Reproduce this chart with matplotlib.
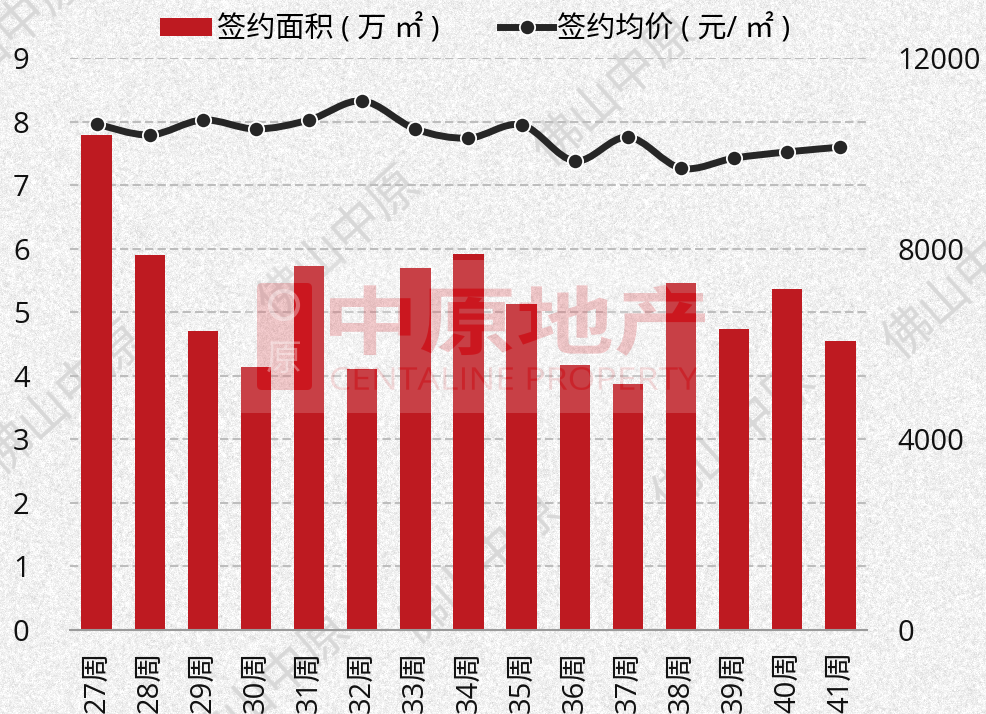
import numpy as np
import matplotlib
matplotlib.use("Agg")
import matplotlib.pyplot as plt
from matplotlib.font_manager import FontProperties
from matplotlib.lines import Line2D
from matplotlib.patches import Circle, FancyBboxPatch, PathPatch, Rectangle
from matplotlib.path import Path
from matplotlib.text import TextPath
from matplotlib.transforms import Affine2D

plt.rcParams['font.family'] = ['Open Sans', 'Noto Sans CJK SC', 'DejaVu Sans']

W, H = 987, 714

weeks = ["27周", "28周", "29周", "30周", "31周", "32周", "33周", "34周",
         "35周", "36周", "37周", "38周", "39周", "40周", "41周"]
area = [7.79, 5.90, 4.70, 4.14, 5.73, 4.10, 5.70, 5.91,
        5.13, 4.17, 3.87, 5.46, 4.74, 5.37, 4.55]
price = [10615, 10385, 10700, 10510, 10700, 11100, 10510, 10320,
         10595, 9840, 10340, 9690, 9900, 10030, 10130]
left_ticks = list(range(10))
right_ticks = [0, 4000, 8000, 12000]

red = "#be1a21"
dark = "#262626"


def fx(px):
    return px / W


def fy(py):
    return 1 - py / H


def smooth_path(x, y):
    # same kind of smoothing as the office chart line, knots stay on the data
    x, y = np.asarray(x, float), np.asarray(y, float)
    verts = [(x[0], y[0])]
    codes = [Path.MOVETO]
    for i in range(len(x) - 1):
        a = max(i - 1, 0)
        b = min(i + 2, len(x) - 1)
        verts.append((x[i] + (x[i + 1] - x[a]) / 6, y[i] + (y[i + 1] - y[a]) / 6))
        verts.append((x[i + 1] - (x[b] - x[i]) / 6, y[i + 1] - (y[b] - y[i]) / 6))
        verts.append((x[i + 1], y[i + 1]))
        codes += [Path.CURVE4] * 3
    return Path(verts, codes)


def fitted_text(s, x0, y0, x1, y1, weight="normal", family="Noto Sans CJK SC"):
    # text outline stretched into a pixel box, the logo is wider than the font
    tp = TextPath((0, 0), s, size=40, prop=FontProperties(family=family, weight=weight))
    bb = tp.get_extents()
    tr = Affine2D().translate(-bb.x0, -bb.y0).scale((x1 - x0) / bb.width, (y1 - y0) / bb.height)
    tr = tr.translate(x0, H - y1)
    return tr.transform_path(tp)


def icon_box(color, alpha):
    return FancyBboxPatch((257, H - 390), 55, 107, boxstyle="round,pad=0,rounding_size=5",
                          transform=None, facecolor=color, edgecolor="none",
                          alpha=alpha, zorder=6)


fig = plt.figure(figsize=(W / 100, H / 100), dpi=100)

# paper texture behind everything
rng = np.random.default_rng(3)
fine = rng.normal(0, 1, (H, W))
coarse = rng.normal(0, 1, (H, W))
kernel = np.ones(3) / 3
for row in range(H):
    coarse[row] = np.convolve(coarse[row], kernel, mode="same")
for col in range(W):
    coarse[:, col] = np.convolve(coarse[:, col], kernel, mode="same")
texture = np.clip(241 + 7 * fine + 15 * coarse, 205, 255) / 255
fig.figimage(texture, cmap="gray", vmin=0, vmax=1, zorder=-5)

# watermarks
for px, py in [(615, 92), (340, 245), (965, 285), (65, 400), (735, 440),
               (480, 570), (270, 690), (5, 40)]:
    fig.text(fx(px), fy(py), "佛山中原", fontsize=36, color="#d8d8d8",
             family="Noto Sans CJK SC", rotation=42, ha="center", va="center", zorder=-4)

ax = fig.add_axes([fx(70), fy(630), fx(867) - fx(70), (630 - 58) / H])
ax.patch.set_alpha(0)
xpos = np.arange(len(weeks))
bars = ax.bar(xpos, area, width=0.57, color=red, zorder=2)
ax.set_xlim(-0.5, len(weeks) - 0.5)
ax.set_ylim(0, 9)
ax.set_yticks(left_ticks)
ax.set_xticks(xpos)
ax.set_xticklabels(weeks, rotation=90, va="top", ha="center")
ax.tick_params(axis="y", length=0, labelsize=21, pad=29, labelcolor="#111111")
ax.tick_params(axis="x", length=0, labelsize=21, pad=15, labelcolor="#111111")
ax.grid(axis="y", color="#bdbdbd", linestyle=(0, (4, 2)), linewidth=1.5, zorder=0)
ax.set_axisbelow(True)
for s in ["top", "left", "right"]:
    ax.spines[s].set_visible(False)
ax.spines["bottom"].set_color("#9a9a9a")
ax.spines["bottom"].set_linewidth(1.5)

ax2 = ax.twinx()
ax2.patch.set_alpha(0)
ax2.set_ylim(0, 12000)
ax2.set_yticks(right_ticks)
ax2.tick_params(axis="y", length=0, labelsize=21, pad=22, labelcolor="#111111")
for s in ax2.spines.values():
    s.set_visible(False)
ax2.add_patch(PathPatch(smooth_path(xpos, price), fill=False, edgecolor=dark,
                        linewidth=5, capstyle="round", zorder=3))
ax2.plot(xpos, price, linestyle="none", marker="o", markersize=11, color=dark,
         markeredgecolor="white", markeredgewidth=1.3, zorder=4)

# logo stamp on top of the bars: pale sheet, glyphs show through
fig.add_artist(Rectangle((fx(240), fy(413)), fx(465), 153 / H, facecolor="white",
                         alpha=0.17, edgecolor="none", zorder=5))
logo_paths = [fitted_text("中原地产", 330, 285, 705, 356, weight="bold"),
              fitted_text("CENTALINE PROPERTY", 331, 367, 698, 390, family="Open Sans")]
logo_alpha = [0.22, 0.14]
for lp, la in zip(logo_paths, logo_alpha):
    fig.add_artist(PathPatch(lp, transform=None, facecolor="#d01a20", edgecolor="none",
                             alpha=la, zorder=6))
    for b in bars:
        p = PathPatch(lp, transform=None, facecolor="#cc1018", edgecolor="none",
                      alpha=0.8 if la > 0.2 else 0.5, zorder=6)
        fig.add_artist(p)
        p.set_clip_path(b)
fig.add_artist(icon_box("#d01a20", 0.22))
fig.add_artist(Circle((284, H - 305), 14, transform=None, facecolor="none",
                      edgecolor="white", linewidth=3, alpha=0.35, zorder=7))
fig.text(fx(284), fy(360), "原", fontsize=26, color="white", alpha=0.35,
         family="Noto Sans CJK SC", ha="center", va="center", zorder=7)
for b in [bars[3], bars[4]]:
    p = icon_box("#cc1018", 0.8)
    fig.add_artist(p)
    p.set_clip_path(b)

handles = [Rectangle((0, 0), 1, 1, facecolor=red),
           Line2D([], [], color=dark, linewidth=5, marker="o", markersize=11,
                  markeredgecolor="white", markeredgewidth=1.3)]
fig.legend(handles, ["签约面积 ( 万 ㎡ )", "签约均价 ( 元/ ㎡ )"], loc="center",
           bbox_to_anchor=(fx(475), fy(29)), ncol=2, frameon=False, fontsize=21,
           handlelength=1.8, handleheight=0.6, handletextpad=0.15, columnspacing=2.1)

fig.savefig("out.png", dpi=100)
